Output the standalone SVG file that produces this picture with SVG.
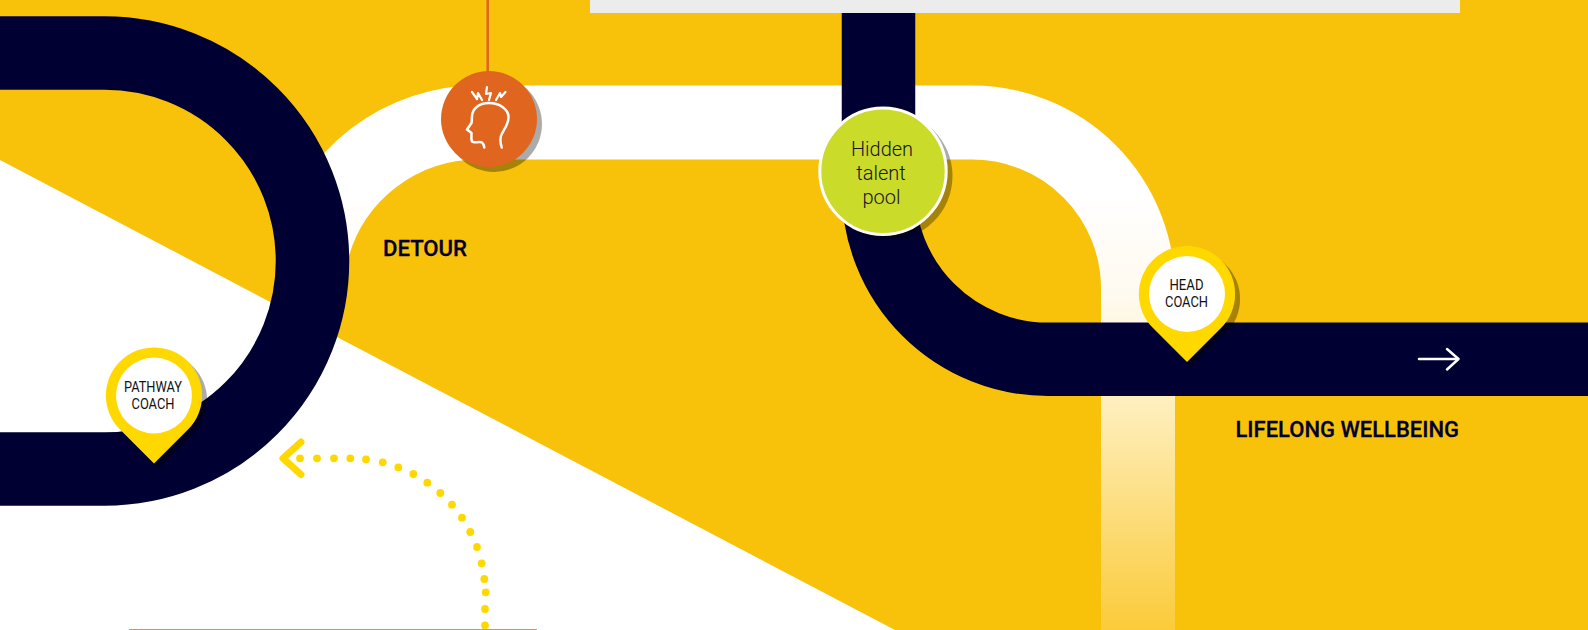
<svg xmlns="http://www.w3.org/2000/svg" width="1588" height="630" viewBox="0 0 1588 630">
<defs>
<linearGradient id="fade" gradientUnits="userSpaceOnUse" x1="0" y1="190" x2="0" y2="630">
<stop offset="0" stop-color="#ffffff"/><stop offset="0.24" stop-color="#fffaf0"/><stop offset="0.46" stop-color="#fef0c2"/><stop offset="1" stop-color="#fbcb3a"/>
</linearGradient>
<path id="pin" d="M-34-34A48 48 0 1 1 34 34L0 68L-34 34A48 48 0 0 1-34-34Z"/>
</defs>
<style>
.navy{fill:none;stroke:#000033;stroke-width:73.5}
.shadow{fill:#000;fill-opacity:.33}
.pinbody{fill:#ffd800}
.pinface{fill:#fff}
.pintext{font-family:Roboto,"Liberation Sans",sans-serif;font-size:14.500px;fill:#111;text-anchor:middle}
.label{font-family:Roboto,"Liberation Sans",sans-serif;font-weight:500;font-size:22px;fill:#000033;stroke:#000033;stroke-width:.3}
.hidden{font-family:Roboto,"Liberation Sans",sans-serif;font-weight:300;font-size:20px;fill:#14142c;text-anchor:middle}
.dot{fill:#ffd800}
.icon{fill:none;stroke:#fff;stroke-width:2.500;stroke-linecap:round;stroke-linejoin:round}
</style>
<rect width="1588" height="630" fill="#f8c20a"/>
<polygon points="0,160 895,630 0,630" fill="#fff"/>
<rect x="590" y="0" width="870" height="13" fill="#ececec"/>
<line x1="129" y1="629.500" x2="537" y2="629.500" stroke="#e08a60" stroke-width="1"/>
<g id="connectors">
<path d="M312.300 249.600A171.500 171.500 0 0 1 478 122.500H972A166 166 0 0 1 1138 288.500V630" fill="none" stroke="url(#fade)" stroke-width="74"/>
<path class="navy" d="M0 53H104.500A208 208 0 0 1 104.500 469H0"/>
<path class="navy" d="M878.500 13V189.500A169.500 169.500 0 0 0 1048 359.300H1588"/>
<line x1="487.700" y1="0" x2="487.700" y2="72" stroke="#e0651f" stroke-width="2.500"/>
<g id="dotted-return">
<circle class="dot" cx="300" cy="458.300" r="3.900"/><circle class="dot" cx="317" cy="458.300" r="3.900"/><circle class="dot" cx="334" cy="458.300" r="3.900"/><circle class="dot" cx="350.300" cy="458.300" r="3.900"/><circle class="dot" cx="366" cy="459.300" r="3.900"/><circle class="dot" cx="382.700" cy="462.300" r="3.900"/><circle class="dot" cx="398.300" cy="467.300" r="3.900"/><circle class="dot" cx="413.300" cy="474" r="3.900"/><circle class="dot" cx="427.300" cy="482.700" r="3.900"/><circle class="dot" cx="440.300" cy="493" r="3.900"/><circle class="dot" cx="452" cy="504.700" r="3.900"/><circle class="dot" cx="462" cy="517.700" r="3.900"/><circle class="dot" cx="470.300" cy="532" r="3.900"/><circle class="dot" cx="477" cy="547" r="3.900"/><circle class="dot" cx="481.700" cy="563.300" r="3.900"/><circle class="dot" cx="484.300" cy="579" r="3.900"/><circle class="dot" cx="485.700" cy="592.300" r="3.900"/><circle class="dot" cx="485" cy="609" r="3.900"/><circle class="dot" cx="485" cy="625.300" r="3.900"/>
<polyline points="301,442 283,458.300 301,474.500" fill="none" stroke="#ffd800" stroke-width="7" stroke-linecap="round" stroke-linejoin="round"/>
</g>
<polyline class="icon" points="1419,359 1458,359"/>
<polyline class="icon" points="1447,349 1458.500,359 1447,369.500"/>
</g>
<g id="node-detour-icon">
<circle class="shadow" cx="494" cy="124" r="48"/>
<circle cx="489" cy="119" r="48" fill="#e0651f"/>
<path class="icon" d="M501.700 147.500C500 142 499.500 138 502 133.500C505 128 508.500 124 508.500 117C508.500 109 499 103 489 103C479 103 472.500 108.500 472 116C471.800 119 472 121 471.500 123L467 129.500L471.500 133C471.500 136 471 139.500 472 141.500C474 143.500 479 141 482 142.500C483.500 143.500 484 145.500 484.300 147.500"/>
<polyline class="icon" style="stroke-width:2.200" points="472,92 477,99 478,93 482,100"/>
<polyline class="icon" style="stroke-width:2.200" points="487,87 486,94 491,93 489,100"/>
<polyline class="icon" style="stroke-width:2.200" points="505.500,92 501,97 500,93 496,100"/>
</g>
<g id="node-hidden-talent-pool">
<circle class="shadow" cx="888" cy="176" r="64.500"/>
<circle cx="883" cy="171.300" r="63.200" fill="#cbdb2a" stroke="#fff" stroke-width="3"/>
<text class="hidden" x="882" y="156" textLength="62" lengthAdjust="spacingAndGlyphs">Hidden</text>
<text class="hidden" x="881" y="180">talent</text>
<text class="hidden" x="881.500" y="204">pool</text>
</g>
<g id="node-head-coach">
<use href="#pin" class="shadow" x="1192" y="299"/>
<use href="#pin" class="pinbody" x="1187" y="294"/>
<circle class="pinface" cx="1187" cy="294" r="38"/>
<text class="pintext" x="1186.500" y="290" textLength="34" lengthAdjust="spacingAndGlyphs">HEAD</text>
<text class="pintext" x="1186.500" y="307" textLength="43" lengthAdjust="spacingAndGlyphs">COACH</text>
</g>
<g id="node-pathway-coach">
<use href="#pin" class="shadow" x="159" y="400.500"/>
<use href="#pin" class="pinbody" x="154" y="395.500"/>
<circle class="pinface" cx="154" cy="395.500" r="38"/>
<text class="pintext" x="153" y="392" textLength="58" lengthAdjust="spacingAndGlyphs">PATHWAY</text>
<text class="pintext" x="153" y="409" textLength="43" lengthAdjust="spacingAndGlyphs">COACH</text>
</g>
<text class="label" x="383" y="256" textLength="84" lengthAdjust="spacingAndGlyphs">DETOUR</text>
<text class="label" x="1235.500" y="436.500" textLength="223.500" lengthAdjust="spacingAndGlyphs">LIFELONG WELLBEING</text>
</svg>
